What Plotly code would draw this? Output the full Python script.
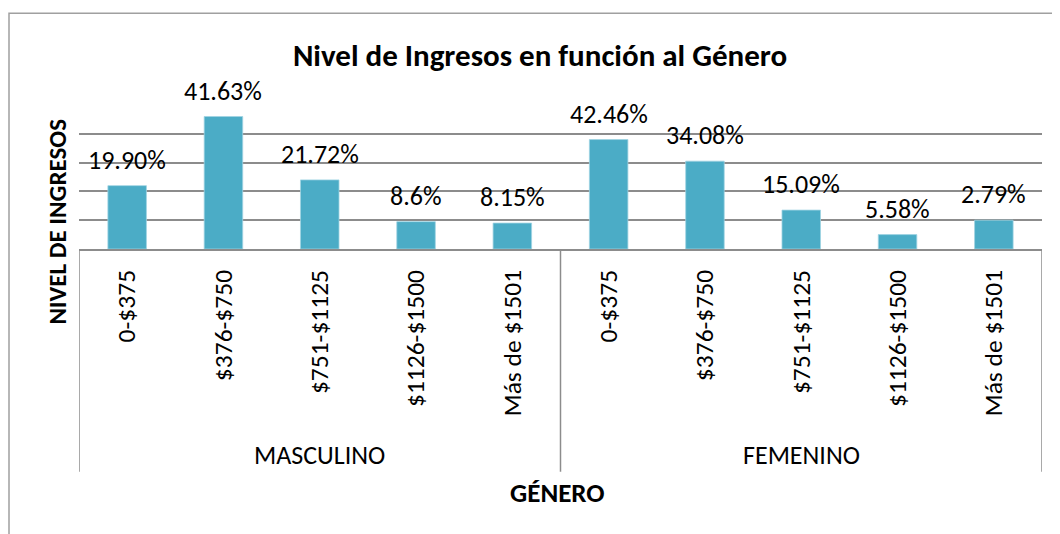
import plotly.graph_objects as go

# ---- data ----
genders = ["MASCULINO", "FEMENINO"]
ranges = ["0-$375", "$376-$750", "$751-$1125", "$1126-$1500", "Más de $1501"]
masculino_values = [44, 92, 48, 19, 18]
femenino_values = [76, 61, 27, 10, 20]
masculino_labels = ["19.90%", "41.63%", "21.72%", "8.6%", "8.15%"]
femenino_labels = ["42.46%", "34.08%", "15.09%", "5.58%", "2.79%"]

title_text = "Nivel de Ingresos en función al Género"
x_title = "GÉNERO"
y_title = "NIVEL DE INGRESOS"

# ---- build categories ----
cats, vals, labs, ticktext = [], [], [], []
for g, v_list, l_list in [(genders[0], masculino_values, masculino_labels),
                          (genders[1], femenino_values, femenino_labels)]:
    for r, v, l in zip(ranges, v_list, l_list):
        cats.append(f"{g}|{r}")
        vals.append(v)
        labs.append(l)
        ticktext.append(r)

FONT = "Carlito, Lato, sans-serif"
BAR = "#4BACC6"
GRID = "#8C8C8C"

# the page body has an 8px margin, so the figure is drawn 8px smaller
OFF = 8
W, H = 1060 - OFF, 534 - OFF
ML = 79 - OFF
MT = 105 - OFF
MR = 1060 - 1042
MB = 534 - 249.5
PW, PH = W - ML - MR, H - MT - MB


def px_to_paper_x(px):
    """reference screen pixel -> paper x"""
    return (px - OFF - ML) / PW


def px_to_paper_y(py):
    """reference screen pixel -> paper y"""
    return (H - MB - (py - OFF)) / PH


fig = go.Figure()
fig.add_trace(go.Bar(
    x=cats, y=vals,
    marker=dict(color=BAR, line=dict(color="#9fd3e2", width=0.8)),
    hoverinfo="skip",
))

annotations = []
for c, v, l in zip(cats, vals, labs):
    annotations.append(dict(
        x=c, y=v, xref="x", yref="y", text=l, showarrow=False,
        yanchor="middle", xanchor="center", yshift=26,
        font=dict(family=FONT, size=26, color="#000000"),
    ))

n = len(ranges)
# group labels
for i, g in enumerate(genders):
    annotations.append(dict(
        x=i * n + (n - 1) / 2, y=px_to_paper_y(456), xref="x", yref="paper",
        text=g, showarrow=False, xanchor="center", yanchor="middle",
        font=dict(family=FONT, size=26, color="#000000"),
    ))
# axis titles
annotations.append(dict(
    x=px_to_paper_x(557), y=px_to_paper_y(494), xref="paper", yref="paper",
    text=f"<b>{x_title}</b>", showarrow=False, xanchor="center", yanchor="middle",
    font=dict(family=FONT, size=27, color="#000000"),
))
annotations.append(dict(
    x=px_to_paper_x(58), y=px_to_paper_y(222), xref="paper", yref="paper",
    text=f"<b>{y_title}</b>", showarrow=False, xanchor="center", yanchor="middle",
    textangle=-90,
    font=dict(family=FONT, size=25, color="#000000"),
))

shapes = []
# dividers of the category axis
for xd in [-0.5, n - 0.5, 2 * n - 0.5]:
    shapes.append(dict(
        type="line", xref="x", yref="paper", x0=xd, x1=xd,
        y0=0, y1=px_to_paper_y(473), line=dict(color=GRID, width=1.5),
    ))
# chart frame
shapes.append(dict(
    type="rect", xref="paper", yref="paper",
    x0=px_to_paper_x(9), x1=px_to_paper_x(1080),
    y0=px_to_paper_y(560), y1=px_to_paper_y(13),
    line=dict(color="#A0A0A0", width=1.5), fillcolor="rgba(0,0,0,0)", layer="below",
))

fig.update_layout(
    width=W, height=H,
    margin=dict(l=ML, r=MR, t=MT, b=MB, pad=0),
    paper_bgcolor="white", plot_bgcolor="white",
    showlegend=False,
    bargap=0.6,
    title=dict(
        text=f"<b>{title_text}</b>", xref="container", yref="container",
        x=(540 - OFF) / W, y=1 - (55 - OFF) / H, xanchor="center", yanchor="middle",
        font=dict(family=FONT, size=31, color="#000000"),
    ),
    xaxis=dict(
        type="category", categoryorder="array", categoryarray=cats,
        tickmode="array", tickvals=cats, ticktext=ticktext,
        tickangle=-90, ticks="", showgrid=False,
        showline=True, linecolor=GRID, linewidth=1.5,
        ticklabelstandoff=9,
        tickfont=dict(family=FONT, size=25.5, color="#000000"),
        range=[-0.5, 2 * n - 0.5],
    ),
    yaxis=dict(
        range=[0, 100], dtick=20, showticklabels=False, ticks="",
        showgrid=True, gridcolor=GRID, gridwidth=1.5,
        zeroline=False, showline=False,
    ),
    annotations=annotations,
    shapes=shapes,
)

fig.write_html("out.html")
